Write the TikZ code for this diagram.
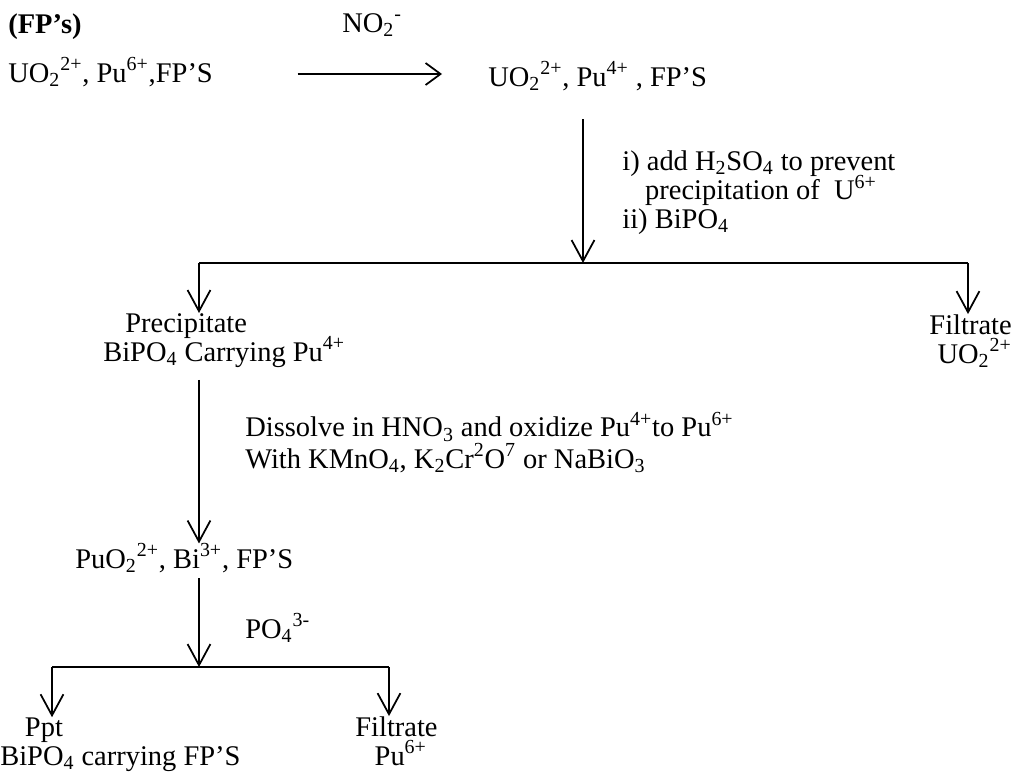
\documentclass[tikz,border=0pt]{standalone}
\usepackage{fontspec}
\setmainfont{Liberation Serif}
\usetikzlibrary{arrows.meta,positioning,calc}
\newcommand{\chsub}[1]{\textsubscript{#1}}
\newcommand{\chsup}[1]{\textsuperscript{#1}}
\newcommand{\tightskip}{\lineskiplimit=-100pt\relax}

\begin{document}
\begin{tikzpicture}[x=0.02cm, y=-0.02cm, font=\fontsize{16.2}{16.4}\selectfont\tightskip]
  \tikzset{
    flow/.style={-{Straight Barb[length=12pt, width=13pt]}, line width=1pt},
    react/.style={-{Straight Barb[length=8.5pt, width=12.5pt]}, line width=1pt},
    branch/.style={line width=1.2pt},
    txt/.style={anchor=base west, inner sep=0pt, align=left}
  }
  \useasboundingbox (0,0) rectangle (1020,774);

  % Species and reagents
  \node[txt, font=\fontsize{16.2}{16.4}\selectfont\bfseries] (fps) at (8,33) {(FP's)};
  \node[txt] (feed) at (8,82) {UO\chsub{2}\chsup{2+}, Pu\chsup{6+},FP'S};
  \node[txt] (nitrite) at (342,32) {NO\chsub{2}\chsup{-}};
  \node[txt] (mix) at (488,86) {UO\chsub{2}\chsup{2+}, Pu\chsup{4+} , FP'S};
  \node[txt] (step1) at (622,228) {i) add H\chsub{2}SO\chsub{4} to prevent\\\hspace*{13pt}precipitation of~ U\chsup{6+}\\ii) BiPO\chsub{4}};

  \node[txt] (ppt1) at (103,361) {\hspace*{12.5pt}Precipitate\\BiPO\chsub{4} Carrying Pu\chsup{4+}};
  \node[anchor=base east, inner sep=0pt, align=right] (filt1) at (1012,363) {Filtrate\\UO\chsub{2}\chsup{2+}};

  \node[txt] (oxid) at (245,468) {Dissolve in HNO\chsub{3} and oxidize Pu\chsup{4+}to Pu\chsup{6+}\\[1.5pt]With KMnO\chsub{4}, K\chsub{2}Cr\chsup{2}O\chsup{7} or NaBiO\chsub{3}};
  \node[txt] (pu6) at (75,568) {PuO\chsub{2}\chsup{2+}, Bi\chsup{3+}, FP'S};
  \node[txt] (phos) at (245,638) {PO\chsub{4}\chsup{3-}};

  \node[txt] (ppt2) at (0,765) {\hspace*{14pt}Ppt\\BiPO\chsub{4} carrying FP'S};
  \node[txt] (filt2) at (355,765) {Filtrate\\\hspace*{11pt}Pu\chsup{6+}};

  % Branch points
  \coordinate (tip1) at (442,74);
  \coordinate (split1) at (583,263);
  \coordinate (split1L) at (199,263);
  \coordinate (split1R) at (968,263);
  \coordinate (split2) at (199,667);
  \coordinate (split2L) at (52,667);
  \coordinate (split2R) at (389,667);

  % Connectors
  \draw[react, shorten <=48pt] (feed.east |- tip1) -- (tip1);
  \draw[flow, shorten <=16pt] (mix.south -| split1) -- (split1);
  \draw[branch] (split1L) -- (split1R);
  \draw[flow] (split1L) -- (split1L |- ppt1.north);
  \draw[flow] (split1R) -- (split1R |- filt1.north);
  \draw[flow, shorten <=7pt] (ppt1.south -| split1L) -- (pu6.north -| split1L);
  \draw[flow, shorten <=3pt] (pu6.south -| split2) -- (split2);
  \draw[branch] (split2L) -- (split2R);
  \draw[flow] (split2L) -- (split2L |- ppt2.north);
  \draw[flow] (split2R) -- (split2R |- filt2.north);
\end{tikzpicture}
\end{document}
